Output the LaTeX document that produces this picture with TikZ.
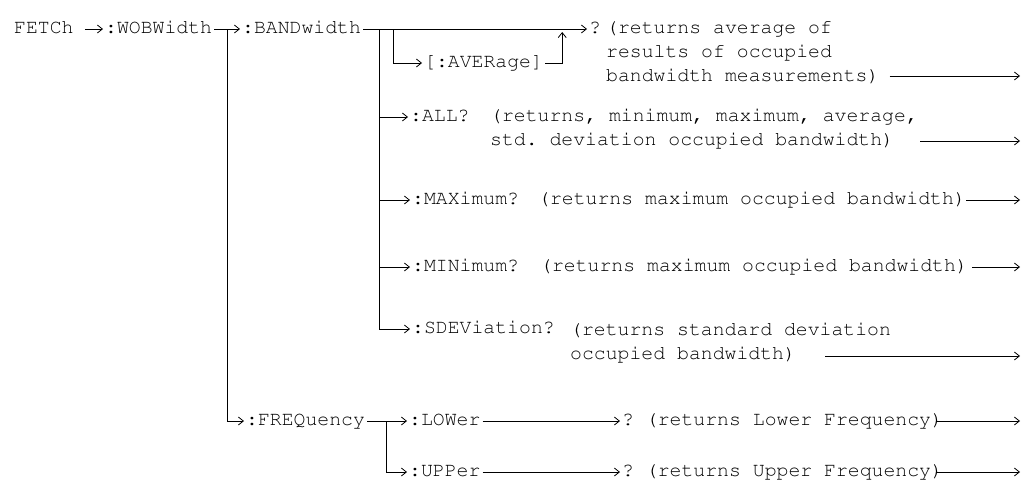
\documentclass[tikz,border=0pt]{standalone}
\usepackage[T1]{fontenc}
\usepackage{courier}
\usepackage{tikz}
\usetikzlibrary{arrows.meta,calc}

\begin{document}
\begin{tikzpicture}[
			x=1pt, y=-1pt,
			font=\ttfamily\frenchspacing\fontsize{19.8}{24}\selectfont,
			cmd/.style={anchor=base west, inner xsep=2pt, inner ysep=0pt, text height=8pt, text depth=0pt},
			desc/.style={anchor=base west, inner sep=0pt, align=left},
			line/.style={-{Straight Barb[length=5pt,width=8pt]}, line width=0.8pt}
			]
			\useasboundingbox (0,0) rectangle (1022,480);
			\node[cmd] (fetch) at (12,33) {FETCh};
			\node[cmd] (wob) at (103,33) {:WOBWidth};
			\node[cmd] (band) at (240,33) {:BANDwidth};
			\node[cmd] (aver) at (422,67) {[:AVERage]};
			\node[cmd] (qavg) at (587,33) {?};
			\node[desc] (davg) at (606,81) {(returns average of\\results of occupied\\bandwidth measurements)};
			\node[cmd] (all) at (408,121) {:ALL?};
			\node[desc] (dall) at (490,145) {(returns, minimum, maximum, average,\\std. deviation occupied bandwidth)};
			\node[cmd] (max) at (410,204) {:MAXimum?};
			\node[desc] (dmax) at (538,204) {(returns maximum occupied bandwidth)};
			\node[cmd] (min) at (410,271) {:MINimum?};
			\node[desc] (dmin) at (540,271) {(returns maximum occupied bandwidth)};
			\node[cmd] (sdev) at (410,333) {:SDEViation?};
			\node[desc] (dsdev) at (570,359) {(returns standard deviation\\occupied bandwidth)};
			\node[cmd] (freq) at (244,425) {:FREQuency};
			\node[cmd] (low) at (407,425) {:LOWer};
			\node[cmd] (qlow) at (620,425) {? (returns Lower Frequency)};
			\node[cmd] (upp) at (407,476) {:UPPer};
			\node[cmd] (qupp) at (620,476) {? (returns Upper Frequency)};
			
			\coordinate (eavg) at (1020,76);
			\coordinate (eall) at (1020,141);
			\coordinate (emax) at (1020,200);
			\coordinate (emin) at (1020,267);
			\coordinate (esdev) at (1020,356);
			\coordinate (elow) at (1020,421);
			\coordinate (eupp) at (1020,472);
			
			\draw[line, shorten <=9pt] (fetch) -- (wob);
			\draw[line] (wob) -- (band);
			\draw[line] ([xshift=13pt]wob.east) |- (freq.west);
			\draw[line] (band) -- (qavg);
			\draw[line] ([xshift=30pt]band.east) |- (aver.west);
			\draw[line] (aver.east) -- ++(17,0) -- ++(0,-31);
			\draw[line] ([xshift=16pt]band.east) |- (all.west);
			\draw[line] ([xshift=16pt]band.east) |- (max.west);
			\draw[line] ([xshift=16pt]band.east) |- (min.west);
			\draw[line] ([xshift=16pt]band.east) |- (sdev.west);
			\draw[line] (freq) -- (low);
			\draw[line] ([xshift=19pt]freq.east) |- (upp.west);
			\draw[line] (low) -- (qlow);
			\draw[line] (upp) -- (qupp);
			
			\draw[line] ($(davg.east |- eavg)+(10,0)$) -- (eavg);
			\draw[line] ($(dall.east |- eall)+(2,0)$) -- (eall);
			\draw[line] (dmax.east |- emax) -- (emax);
			\draw[line] ($(dmin.east |- emin)+(4,0)$) -- (emin);
			\draw[line] ($(dsdev.west |- esdev)+(255,0)$) -- (esdev);
			\draw[line] ($(qlow.east |- elow)+(-8,0)$) -- (elow);
			\draw[line] ($(qupp.east |- eupp)+(-8,0)$) -- (eupp);
		\end{tikzpicture}
\end{document}
